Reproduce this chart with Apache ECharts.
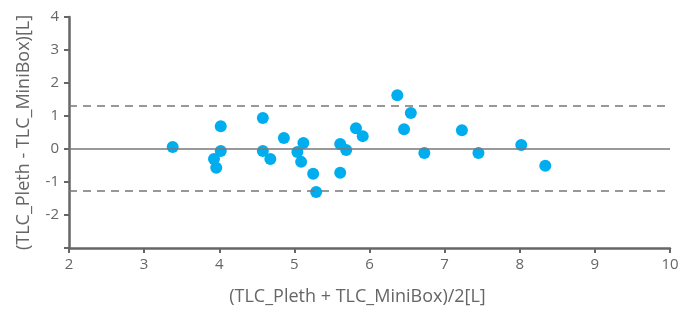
<!DOCTYPE html>
<html>
<head>
<meta charset="utf-8">
<script src="https://cdn.jsdelivr.net/npm/echarts@6/dist/echarts.min.js"></script>
<style>
  html, body { margin: 0; padding: 0; background: #fff; }
  #chart { width: 689px; height: 311px; }
</style>
</head>
<body>
<div id="chart"></div>
<script>
// Bland-Altman: mean of both methods vs. difference
const meanValues = [3.38, 4.02, 4.02, 3.93, 3.96, 4.58, 4.58, 4.68, 4.86, 5.12, 5.04, 5.09, 5.25, 5.29,
  5.61, 5.69, 5.61, 5.82, 5.91, 6.37, 6.55, 6.46, 6.73, 7.23, 7.45, 8.02, 8.34]
const diffValues = [0.06, 0.69, -0.06, -0.30, -0.57, 0.94, -0.06, -0.30, 0.33, 0.18, -0.09, -0.39, -0.75, -1.30,
  0.15, -0.03, -0.72, 0.63, 0.39, 1.63, 1.09, 0.60, -0.12, 0.57, -0.12, 0.12, -0.51]
const meanDiff = 0
const upperLimit = 1.31
const lowerLimit = -1.26

const points = meanValues.map((x, i) => [x, diffValues[i]])

const axisColor = '#666'
const font = '"Open Sans", sans-serif'

const chart = echarts.init(document.getElementById('chart'))
chart.setOption({
  animation: false,
  grid: { left: 69, right: 19, top: 17, bottom: 62 },
  xAxis: {
    type: 'value',
    min: 2, max: 10, interval: 1,
    name: '(TLC_Pleth + TLC_MiniBox)/2[L]',
    nameLocation: 'middle',
    nameGap: 40,
    nameTextStyle: { color: '#666', fontSize: 18, fontFamily: font, padding: [0, 24, 0, 0] },
    axisLine: { show: true, onZero: false, lineStyle: { color: axisColor, width: 2.5 } },
    axisTick: { show: true, length: 5, lineStyle: { color: axisColor, width: 2 } },
    axisLabel: { color: '#666', fontSize: 15, fontFamily: font, margin: 9 },
    splitLine: { show: false }
  },
  yAxis: {
    type: 'value',
    min: -3, max: 4, interval: 1,
    name: '(TLC_Pleth - TLC_MiniBox)[L]',
    nameLocation: 'middle',
    nameGap: 36,
    nameTextStyle: { color: '#666', fontSize: 18, fontFamily: font },
    axisLine: { show: true, onZero: false, lineStyle: { color: axisColor, width: 2.5 } },
    axisTick: { show: true, length: 5, lineStyle: { color: axisColor, width: 2 } },
    axisLabel: {
      color: '#666', fontSize: 15, fontFamily: font, margin: 10,
      formatter: v => (v === -3 ? '' : v)
    },
    splitLine: { show: false }
  },
  series: [{
    type: 'scatter',
    data: points,
    symbolSize: 12,
    itemStyle: { color: '#00aeef', opacity: 1 },
    markLine: {
      silent: true,
      symbol: 'none',
      label: { show: false },
      data: [
        { yAxis: meanDiff, lineStyle: { type: 'solid', color: '#777', width: 1.5 } },
        { yAxis: upperLimit, lineStyle: { type: [8, 6], color: '#777', width: 1.5 } },
        { yAxis: lowerLimit, lineStyle: { type: [8, 6], color: '#777', width: 1.5 } }
      ]
    }
  }]
})
</script>
</body>
</html>
